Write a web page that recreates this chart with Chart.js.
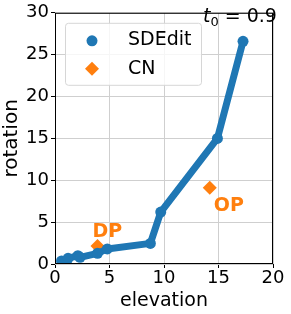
<!DOCTYPE html>
<html lang="en">
<head>
    <meta charset="UTF-8">
    <title>SDEdit vs CN</title>
    <script src="https://cdn.jsdelivr.net/npm/chart.js"></script>
    <style>
        body { margin: 0; background: #fff; }
        #wrap { width: 291px; height: 314px; }
    </style>
</head>
<body>
    <div id="wrap"><canvas id="myChart" width="291" height="314"></canvas></div>

<script>
    // valores
    const sdeditElevation = [0.6, 1.2, 2.1, 2.3, 3.9, 4.8, 8.75, 9.7, 14.9, 17.25];
    const sdeditRotation = [0.36, 0.68, 1.0, 0.8, 1.27, 1.8, 2.46, 6.2, 15.0, 26.6];
    const cnElevation = [3.9, 14.2];
    const cnRotation = [2.14, 9.1];
    const cnLabels = ["DP", "OP"];
    const xTicks = [0, 5, 10, 15, 20];
    const yTicks = [0, 5, 10, 15, 20, 25, 30];

    const BLUE = "#1f77b4";
    const ORANGE = "#ff7f0e";
    const FONT = "'DejaVu Sans', sans-serif";

    const sdeditData = sdeditElevation.map((x, i) => ({ x: x, y: sdeditRotation[i] }));
    const cnData = cnElevation.map((x, i) => ({ x: x, y: cnRotation[i] }));

    // moldura, legenda e textos
    const extras = {
        id: "extras",
        afterDatasetsDraw(chart) {
            const ctx = chart.ctx;
            const a = chart.chartArea;
            const xs = chart.scales.x, ys = chart.scales.y;
            ctx.save();

            // rotulos DP / OP
            ctx.fillStyle = ORANGE;
            ctx.font = "bold 19px " + FONT;
            ctx.textBaseline = "alphabetic";
            ctx.textAlign = "left";
            const offs = [[-5, -9], [4, 23]];
            cnData.forEach((p, i) => {
                ctx.fillText(cnLabels[i], xs.getPixelForValue(p.x) + offs[i][0], ys.getPixelForValue(p.y) + offs[i][1]);
            });

            // t0 = 0.9
            const last = sdeditData[sdeditData.length - 1];
            let tx = xs.getPixelForValue(last.x) - 40;
            const ty = ys.getPixelForValue(last.y) - 19;
            ctx.fillStyle = "#000";
            ctx.font = "italic 19px " + FONT;
            ctx.fillText("t", tx, ty);
            tx += ctx.measureText("t").width;
            ctx.font = "13px " + FONT;
            ctx.fillText("0", tx, ty + 4);
            tx += ctx.measureText("0").width;
            ctx.font = "19px " + FONT;
            ctx.fillText(" = 0.9", tx, ty);

            // legenda
            const lx = a.left + 10, ly = a.top + 10, lw = 136, lh = 62;
            ctx.fillStyle = "rgba(255,255,255,0.8)";
            ctx.strokeStyle = "#d6d6d6";
            ctx.lineWidth = 1;
            ctx.beginPath();
            ctx.roundRect(lx + 0.5, ly + 0.5, lw, lh, 3);
            ctx.fill();
            ctx.stroke();
            ctx.fillStyle = BLUE;
            ctx.beginPath();
            ctx.arc(lx + 27, ly + 18, 5.5, 0, Math.PI * 2);
            ctx.fill();
            ctx.fillStyle = ORANGE;
            ctx.beginPath();
            const dx = lx + 27, dy = ly + 46;
            ctx.moveTo(dx, dy - 7); ctx.lineTo(dx + 7, dy); ctx.lineTo(dx, dy + 7); ctx.lineTo(dx - 7, dy);
            ctx.closePath();
            ctx.fill();
            ctx.fillStyle = "#000";
            ctx.font = "19px " + FONT;
            ctx.textBaseline = "middle";
            ctx.fillText("SDEdit", lx + 63, ly + 17);
            ctx.fillText("CN", lx + 63, ly + 46);

            // moldura
            ctx.strokeStyle = "#000";
            ctx.lineWidth = 1;
            ctx.strokeRect(a.left + 0.5, a.top + 0.5, a.right - a.left - 1, a.bottom - a.top - 1);
            ctx.restore();
        }
    };

    const config = {
        type: "scatter",
        data: {
            datasets: [
                {
                    label: "SDEdit",
                    data: sdeditData,
                    showLine: true,
                    borderColor: BLUE,
                    backgroundColor: BLUE,
                    borderWidth: 7,
                    pointRadius: 5.5,
                    pointBorderWidth: 0,
                    borderJoinStyle: "round",
                    borderCapStyle: "round"
                },
                {
                    label: "CN",
                    data: cnData,
                    backgroundColor: ORANGE,
                    borderColor: ORANGE,
                    pointStyle: "rectRot",
                    pointRadius: 7,
                    pointBorderWidth: 0
                }
            ]
        },
        options: {
            responsive: false,
            animation: false,
            layout: { padding: { top: 12, right: 18, left: 0, bottom: 0 } },
            plugins: { legend: { display: false }, tooltip: { enabled: false } },
            scales: {
                x: {
                    type: "linear",
                    min: 0, max: 20,
                    afterBuildTicks: (s) => { s.ticks = xTicks.map(v => ({ value: v })); },
                    afterFit: (s) => { s.height = 50; },
                    grid: { color: "#cfcfcf", lineWidth: 1, tickColor: "#000", tickLength: 4 },
                    border: { display: false },
                    ticks: { color: "#000", font: { family: FONT, size: 18 }, padding: 0, maxRotation: 0 },
                    title: { display: true, text: "elevation", color: "#000", font: { family: FONT, size: 19 }, padding: { top: 0, bottom: 2 } }
                },
                y: {
                    type: "linear",
                    min: 0, max: 30,
                    afterBuildTicks: (s) => { s.ticks = yTicks.map(v => ({ value: v })); },
                    afterFit: (s) => { s.width = 55; },
                    grid: { color: "#cfcfcf", lineWidth: 1, tickColor: "#000", tickLength: 4 },
                    border: { display: false },
                    ticks: { color: "#000", font: { family: FONT, size: 18 }, padding: 2 },
                    title: { display: true, text: "rotation", color: "#000", font: { family: FONT, size: 20 }, padding: { top: 0, bottom: 0 } }
                }
            }
        },
        plugins: [extras]
    };

    new Chart(document.getElementById("myChart").getContext("2d"), config);
</script>
</body>
</html>
